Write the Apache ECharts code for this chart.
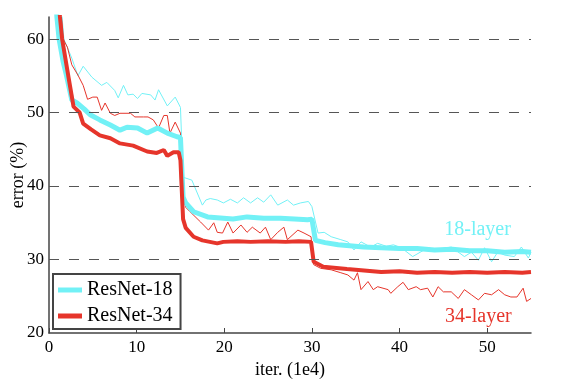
<!DOCTYPE html>
<html><head><meta charset="utf-8">
<script src="https://cdn.jsdelivr.net/npm/echarts@6/dist/echarts.min.js"></script>
<style>html,body{margin:0;padding:0;background:#fff}#c{width:564px;height:380px}</style>
</head><body><div id="c"></div>
<script>
// Data (x in units of 1e4 iterations, y = error %)
var train18X = [1.0,1.7,2.6,3.3,3.9,4.9,6.0,6.6,7.5,7.9,8.5,9.0,9.6,10.1,10.6,11.6,12.1,12.5,13.5,14.1,14.4,15.0,15.3,16.3,17.5,17.9,18.4,19.2,19.9,20.7,21.5,22.2,23.0,23.8,24.5,25.3,26.1,27.2,27.9,28.7,29.6,30.0,30.7,31.4,32.2,33.3,34.1,34.8,35.6,36.7,37.5,38.5,39.3,40.2,41.5,42.8,44.3,45.9,47.4,48.2,49.0,49.7,50.5,51.2,52.0,53.1,53.9,54.7,55.0];
var train18Y = [70,60,57.4,55,56.3,54.8,53.7,54.1,53,52,53.7,52.4,52.5,51.9,52.6,52.4,51.7,53.1,50.9,51.7,52.1,50.7,41.2,40.8,37.4,38.1,38.3,38.1,37.7,38.2,37.7,38.4,37.7,38.4,37.8,38.8,37.4,38.1,37.4,37.7,37.9,37.2,33.6,33.7,33.1,32.7,32.4,31.3,32.4,31.7,32.2,31.8,32.0,31.6,30.4,31.3,31.4,31.7,30.4,31.0,29.9,31.6,29.7,31.0,30.6,30.4,31.7,30.2,31.0];

var train34X = [0.8,1.6,2.1,2.6,3.3,3.9,4.4,5.0,5.5,6.0,6.4,7.0,7.5,8.1,9.3,9.8,10.8,11.3,11.9,12.5,13.1,13.5,13.8,14.4,15.0,15.3,15.6,16.1,17.3,18.2,18.8,19.2,19.8,20.4,21.0,21.9,22.6,23.2,24.1,24.7,25.3,26.1,26.8,27.2,28.4,29.1,29.9,30.2,31.0,32.2,33.3,34.1,34.8,35.2,35.6,36.4,37.0,37.5,38.7,39.0,39.8,40.4,41.0,41.9,42.4,43.2,43.8,44.4,45.0,45.9,46.7,47.4,48.2,49.0,49.7,50.5,51.3,52.0,52.7,53.4,54.1,54.5,55.0];
var train34Y = [72,60,58.9,56.5,55.1,53.7,51.8,52.1,52.1,50.3,51.3,49.9,49.6,49.9,49.9,49.4,49.4,49.4,49.0,47.9,49.6,49.6,47.2,48.7,47.2,39.5,37.1,36.5,35.1,34.0,35.0,33.7,33.6,35.1,33.6,34.7,33.7,34.4,33.6,34.4,32.7,33.7,34.4,32.7,34.0,33.6,33.1,29.3,28.8,28.6,28.2,27.9,27.2,28.2,25.9,27.0,25.9,26.3,25.9,25.4,26.3,26.9,25.9,26.3,25.9,26.1,24.9,26.3,25.6,25.6,24.7,25.9,25.2,24.5,25.4,25.2,25.9,25.2,24.9,24.9,26.1,24.3,24.7];

var val18X = [0.5,0.9,1.15,1.6,2.0,2.6,3.2,4.0,4.7,5.8,7.0,8.1,8.9,10.1,11.2,12.4,13.5,14.6,15.0,15.3,15.6,16.5,18.1,21.0,22.6,24.5,26.4,28.0,29.5,30.0,30.4,31.5,33.0,35.9,37.9,40,42,44,46,48,50,52,54,55];
var val18Y = [72,63,60,57,55,51.7,51.3,50.5,49.7,49.0,48.3,47.6,48.0,47.9,47.2,47.9,47.2,46.7,46.6,38.5,37.7,36.5,35.8,35.5,35.8,35.6,35.6,35.5,35.4,35.5,32.6,32.3,32.0,31.7,31.6,31.5,31.5,31.3,31.4,31.2,31.2,31.0,31.1,31.0];

var val34X = [0.7,1.25,1.5,2.2,2.8,3.5,3.9,4.8,5.8,7.0,8.1,9.6,11.2,12.3,13.1,13.5,14.2,14.8,15.0,15.3,15.6,16.5,17.5,19.2,19.9,21.5,23,25,27,28.5,29.9,30.2,31.3,34,37.9,40,42,44,46,48,50,52,54,55];
var val34Y = [72,63,60,55,50.8,50.0,48.5,47.7,46.9,46.5,45.8,45.5,44.7,44.5,44.9,44.1,44.6,44.6,43.5,35.5,34.3,33.1,32.6,32.2,32.4,32.5,32.4,32.5,32.4,32.5,32.4,29.7,29.0,28.7,28.3,28.4,28.2,28.3,28.2,28.3,28.2,28.3,28.2,28.3];

var xTickValues = [0,10,20,30,40,50];
var yTickValues = [20,30,40,50,60];
var gridValues = [30,40,50,60];
var legendNames = ['ResNet-18','ResNet-34'];
var label18 = {text:'18-layer', x:48.9, y:34.0};
var label34 = {text:'34-layer', x:49.0, y:22.2};

function pairs(xs, ys){ return xs.map(function(x,i){ return [x, ys[i]]; }); }

var CYAN = '#72f1f6', RED = '#e6352b';
var FONT = "'Liberation Serif', 'DejaVu Serif', serif";

var chart = echarts.init(document.getElementById('c'), null, {renderer:'canvas'});
chart.setOption({
  animation:false,
  backgroundColor:'#fff',
  textStyle:{fontFamily:FONT},
  grid:{left:49,right:33,top:17,bottom:47,containLabel:false,outerBoundsMode:'none'},
  legend:{
    data:legendNames,
    orient:'vertical',
    left:53, top:274,
    padding:[5,8,2,5],
    itemGap:4,
    itemWidth:24, itemHeight:5,
    icon:'rect',
    borderColor:'#444', borderWidth:2,
    backgroundColor:'#fff',
    textStyle:{fontFamily:FONT,fontSize:20,color:'#000',lineHeight:22}
  },
  xAxis:{
    type:'value', min:0, max:55, interval:10,
    name:'iter. (1e4)', nameLocation:'middle', nameGap:25,
    nameTextStyle:{fontFamily:FONT,fontSize:18,color:'#000'},
    axisLine:{show:true,onZero:false,lineStyle:{color:'#444',width:1.5}},
    axisTick:{show:true,inside:true,length:5,customValues:xTickValues,lineStyle:{color:'#444'}},
    axisLabel:{fontFamily:FONT,fontSize:17,color:'#000',margin:6,customValues:xTickValues},
    splitLine:{show:false}
  },
  yAxis:{
    type:'value', min:20, max:63, interval:10,
    name:'error (%)', nameLocation:'middle', nameGap:22, nameMoveOverlap:false,
    nameTextStyle:{fontFamily:FONT,fontSize:18,color:'#000'},
    axisLine:{show:true,onZero:false,lineStyle:{color:'#444',width:1.5}},
    axisTick:{show:false},
    axisLabel:{fontFamily:FONT,fontSize:17,color:'#000',margin:5,customValues:yTickValues},
    splitLine:{show:false}
  },
  series:[
    {name:'train18',type:'line',data:pairs(train18X,train18Y),showSymbol:false,
     lineStyle:{color:CYAN,width:1},itemStyle:{color:CYAN},
     markLine:{silent:true,symbol:['none','none'],label:{show:false},
       lineStyle:{color:'#555',width:1,type:[10,10]},
       data:gridValues.map(function(v){return {yAxis:v};})}},
    {name:'train34',type:'line',data:pairs(train34X,train34Y),showSymbol:false,
     lineStyle:{color:RED,width:1},itemStyle:{color:RED}},
    {name:'ResNet-18',type:'line',data:pairs(val18X,val18Y),showSymbol:false,
     lineStyle:{color:CYAN,width:5},itemStyle:{color:CYAN},
     markPoint:{symbol:'circle',symbolSize:0,silent:true,
       label:{show:true,position:'inside',formatter:label18.text,fontFamily:FONT,fontSize:20,color:CYAN},
       data:[{coord:[label18.x,label18.y]}]}},
    {name:'ResNet-34',type:'line',data:pairs(val34X,val34Y),showSymbol:false,
     lineStyle:{color:RED,width:4},itemStyle:{color:RED},
     markPoint:{symbol:'circle',symbolSize:0,silent:true,
       label:{show:true,position:'inside',formatter:label34.text,fontFamily:FONT,fontSize:20,color:RED},
       data:[{coord:[label34.x,label34.y]}]}}
  ]
});
</script></body></html>
